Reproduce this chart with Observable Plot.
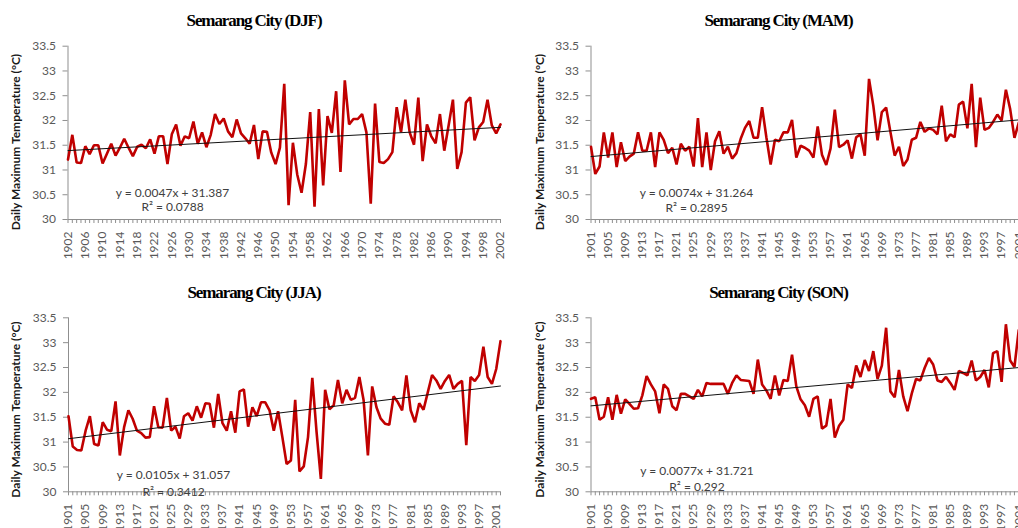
<!DOCTYPE html>
<html><head><meta charset="utf-8">
<script src="https://cdn.jsdelivr.net/npm/d3@7"></script>
<script src="https://cdn.jsdelivr.net/npm/@observablehq/plot@0.6"></script>
<style>
html,body{margin:0;padding:0;overflow:hidden;background:#fff;}
#root{position:relative;width:1018px;height:528px;overflow:hidden;background:#fff;}
.panel{position:absolute;overflow:visible;}
.panel svg{display:block;max-width:none !important;}
</style></head><body><div id="root"></div>
<script>
// ---------- data ----------
const seasons = ["DJF", "MAM", "JJA", "SON"];
const titles = ["Semarang City (DJF)", "Semarang City (MAM)", "Semarang City (JJA)", "Semarang City (SON)"];
const yLabel = "Daily Maximum Temperature (°C)";
const startYears = [1902, 1901, 1901, 1901];
const axisEndYears = [2002, 2002, 2002, 2002];

const djf = [
  31.21, 31.71, 31.15, 31.14, 31.48, 31.32, 31.5, 31.5, 31.13, 31.33,
  31.53, 31.29, 31.45, 31.63, 31.45, 31.28, 31.47, 31.51, 31.44, 31.62,
  31.33, 31.68, 31.68, 31.12, 31.72, 31.92, 31.49, 31.68, 31.64, 31.98,
  31.53, 31.76, 31.46, 31.71, 32.13, 31.93, 32.04, 31.78, 31.66, 32.02,
  31.74, 31.64, 31.53, 31.91, 31.22, 31.78, 31.77, 31.35, 31.12, 31.45,
  32.74, 30.29, 31.55, 30.91, 30.54, 31.12, 32.17, 30.26, 32.23, 30.69,
  32.09, 31.75, 32.59, 30.96, 32.81, 31.92, 32.03, 32.03, 32.13, 31.76,
  30.32, 32.34, 31.16, 31.14, 31.22, 31.36, 32.27, 31.76, 32.42, 31.76,
  31.51, 32.46, 31.18, 31.92, 31.68, 31.54, 32.13, 31.39, 31.9, 32.42,
  31.02, 31.36, 32.36, 32.47, 31.6, 31.86, 31.97, 32.42, 31.9, 31.74,
  31.92
];
const mam = [
  31.47, 30.92, 31.07, 31.76, 31.25, 31.76, 31.06, 31.56, 31.18, 31.27,
  31.33, 31.76, 31.39, 31.39, 31.76, 31.06, 31.76, 31.61, 31.34, 31.45,
  31.11, 31.53, 31.39, 31.47, 31.07, 32.05, 31.06, 31.76, 31.0, 31.58,
  31.78, 31.33, 31.47, 31.23, 31.34, 31.63, 31.85, 31.99, 31.65, 31.65,
  32.27, 31.66, 31.11, 31.61, 31.58, 31.76, 31.76, 32.01, 31.25, 31.49,
  31.45, 31.39, 31.25, 31.88, 31.31, 31.1, 31.43, 32.22, 31.46, 31.51,
  31.6, 31.23, 31.66, 31.72, 31.29, 32.84, 32.3, 31.6, 32.17, 32.26,
  31.77, 31.29, 31.47, 31.08, 31.21, 31.61, 31.65, 31.97, 31.77, 31.84,
  31.81, 31.72, 32.3, 31.58, 31.72, 31.66, 32.32, 32.38, 31.84, 32.74,
  31.46, 32.46, 31.81, 31.85, 31.97, 32.12, 32.0, 32.62, 32.23, 31.65,
  31.95
];
const jja = [
  31.52, 30.91, 30.84, 30.83, 31.23, 31.52, 30.96, 30.93, 31.4, 31.25,
  31.22, 31.82, 30.73, 31.3, 31.64, 31.47, 31.23, 31.18, 31.09, 31.1,
  31.72, 31.3, 31.29, 31.89, 31.23, 31.31, 31.07, 31.52, 31.58, 31.43,
  31.72, 31.49, 31.78, 31.77, 31.29, 31.97, 31.38, 31.23, 31.62, 31.19,
  32.02, 32.06, 31.31, 31.7, 31.52, 31.8, 31.8, 31.64, 31.23, 31.62,
  31.1, 30.56, 30.63, 31.85, 30.41, 30.51, 31.1, 32.29, 31.2, 30.26,
  32.05, 31.66, 31.74, 32.25, 31.78, 32.05, 31.85, 31.89, 32.31, 31.84,
  30.73, 32.12, 31.7, 31.47, 31.37, 31.35, 31.92, 31.8, 31.64, 32.34,
  31.64, 31.4, 31.78, 31.65, 32.0, 32.35, 32.24, 32.07, 32.23, 32.35,
  32.07, 32.17, 32.23, 30.94, 32.31, 32.23, 32.35, 32.92, 32.31, 32.17,
  32.47, 33.03
];
const son = [
  31.87, 31.9, 31.45, 31.51, 31.9, 31.45, 31.95, 31.57, 31.86, 31.77,
  31.67, 31.68, 31.94, 32.33, 32.16, 32.02, 31.58, 32.16, 32.07, 31.72,
  31.64, 31.97, 31.97, 31.92, 31.87, 32.05, 31.92, 32.19, 32.17, 32.17,
  32.17, 32.17, 31.97, 32.19, 32.34, 32.25, 32.24, 32.23, 31.97, 32.66,
  32.16, 32.04, 31.87, 32.34, 31.94, 32.25, 32.23, 32.76, 32.12, 31.86,
  31.74, 31.51, 31.87, 31.92, 31.27, 31.33, 31.87, 31.09, 31.33, 31.45,
  32.16, 32.09, 32.54, 32.31, 32.65, 32.43, 32.83, 32.27, 32.54, 33.3,
  32.02, 31.9, 32.45, 31.92, 31.62, 31.98, 32.27, 32.24, 32.49, 32.69,
  32.56, 32.24, 32.21, 32.31, 32.19, 32.05, 32.43, 32.39, 32.34, 32.64,
  32.24, 32.31, 32.45, 32.1, 32.79, 32.83, 32.21, 33.37, 32.64, 32.51,
  33.25
];
const seriesValues = [djf, mam, jja, son];

const slopes = [0.0047, 0.0074, 0.0105, 0.0077];
const intercepts = [31.387, 31.264, 31.057, 31.721];
const r2Labels = ["0.0788", "0.2895", "0.3412", "0.292"];

const yTicks = [30, 30.5, 31, 31.5, 32, 32.5, 33, 33.5];
const xLabelsDJF = [1902,1906,1910,1914,1918,1922,1926,1930,1934,1938,1942,1946,1950,1954,1958,1962,1966,1970,1974,1978,1982,1986,1990,1994,1998,2002];
const xLabels1901 = [1901,1905,1909,1913,1917,1921,1925,1929,1933,1937,1941,1945,1949,1953,1957,1961,1965,1969,1973,1977,1981,1985,1989,1993,1997,2001];
const xLabelSets = [xLabelsDJF, xLabels1901, xLabels1901, xLabels1901];

// ---------- layout (positions / sizes only) ----------
const layout = [
  {left: 0,   top: 0,   width: 509,   height: 264, mL: 67.5, mR: 9, mT: 45.7, mB: 45,   tX: 253.5, tY: 20,   lX: 15.7, lY: 141.5, eX: 172,   eY1: 193,   eY2: 206.5},
  {left: 509, top: 0,   width: 519.5, height: 264, mL: 81.5, mR: 6, mT: 45.7, mB: 45,   tX: 269,   tY: 20,   lX: 31,   lY: 141.5, eX: 187,   eY1: 193,   eY2: 208},
  {left: 0,   top: 264, width: 509,   height: 264, mL: 68,   mR: 9, mT: 53.3, mB: 36.7, tX: 253.5, tY: 28.3, lX: 15.7, lY: 145,   eX: 173,   eY1: 210.7, eY2: 227.5},
  {left: 509, top: 264, width: 519.5, height: 264, mL: 81.5, mR: 6, mT: 53.3, mB: 36.7, tX: 269,   tY: 28.3, lX: 31,   lY: 145,   eX: 187.5, eY1: 206.7, eY2: 222.7}
];

const root = document.getElementById("root");
const axisGray = "#8f8f8f";
const tickText = "#595959";

seasons.forEach((s, k) => {
  const L = layout[k];
  const start = startYears[k];
  const end = axisEndYears[k];
  const data = seriesValues[k].map((v, i) => ({year: start + i, v}));
  const nTrend = end - start + 1;
  const trend = [
    {year: start, v: intercepts[k] + slopes[k] * 1},
    {year: end, v: intercepts[k] + slopes[k] * nTrend}
  ];
  const allYears = d3.range(start, end + 1);
  const at = (ax, ay) => ({frameAnchor: "top-left", dx: ax - L.mL, dy: ay - L.mT});

  const chart = Plot.plot({
    width: L.width,
    height: L.height,
    marginLeft: L.mL, marginRight: L.mR, marginTop: L.mT, marginBottom: L.mB,
    style: {fontFamily: "Lato", fontSize: "12px", color: tickText, background: "transparent", maxWidth: "none"},
    x: {domain: [start, end]},
    y: {domain: [30, 33.5]},
    marks: [
      Plot.ruleX([start], {stroke: axisGray, strokeWidth: 1}),
      Plot.ruleY([30], {stroke: axisGray, strokeWidth: 1}),
      Plot.axisY({ticks: yTicks, tickSize: 5, tickPadding: 7, tickFormat: d => String(d), stroke: axisGray, fill: tickText, fontSize: 12, label: null}),
      Plot.axisX({ticks: allYears, tickSize: 4, tickFormat: () => "", stroke: axisGray, label: null}),
      Plot.axisX({ticks: xLabelSets[k], tickSize: 0, tickPadding: 12, tickRotate: -90, tickFormat: d => String(d), fill: tickText, fontSize: 12, label: null}),
      Plot.line(data, {x: "year", y: "v", stroke: "#C00000", strokeWidth: 2.6, strokeLinejoin: "miter"}),
      Plot.line(trend, {x: "year", y: "v", stroke: "#111", strokeWidth: 1}),
      Plot.text([`y = ${slopes[k]}x + ${intercepts[k]}`], {...at(L.eX, L.eY1), text: d => d, textAnchor: "middle", lineAnchor: "middle", fill: "#404040", fontSize: 12}),
      Plot.text([`R² = ${r2Labels[k]}`], {...at(L.eX, L.eY2), text: d => d, textAnchor: "middle", lineAnchor: "middle", fill: "#404040", fontSize: 12}),
      Plot.text([titles[k]], {...at(L.tX, L.tY), text: d => d, textAnchor: "middle", lineAnchor: "middle", fill: "#000", fontSize: 17, fontWeight: "bold", fontFamily: "Liberation Serif"}),
      Plot.text([yLabel], {...at(L.lX, L.lY), text: d => d, rotate: -90, textAnchor: "middle", lineAnchor: "middle", fill: "#1a1a1a", fontSize: 12, fontWeight: "bold", fontFamily: "Lato"})
    ]
  });
  chart.style.maxWidth = "none";
  chart.style.width = L.width + "px";
  chart.style.height = L.height + "px";
  d3.select(chart).selectAll("text").filter(function() { return this.textContent === titles[k]; })
    .style("letter-spacing", "-1.1px");
  const div = document.createElement("div");
  div.className = "panel";
  div.style.left = L.left + "px";
  div.style.top = L.top + "px";
  div.style.width = L.width + "px";
  div.style.height = L.height + "px";
  div.appendChild(chart);
  root.appendChild(div);
});
</script>
</body></html>
